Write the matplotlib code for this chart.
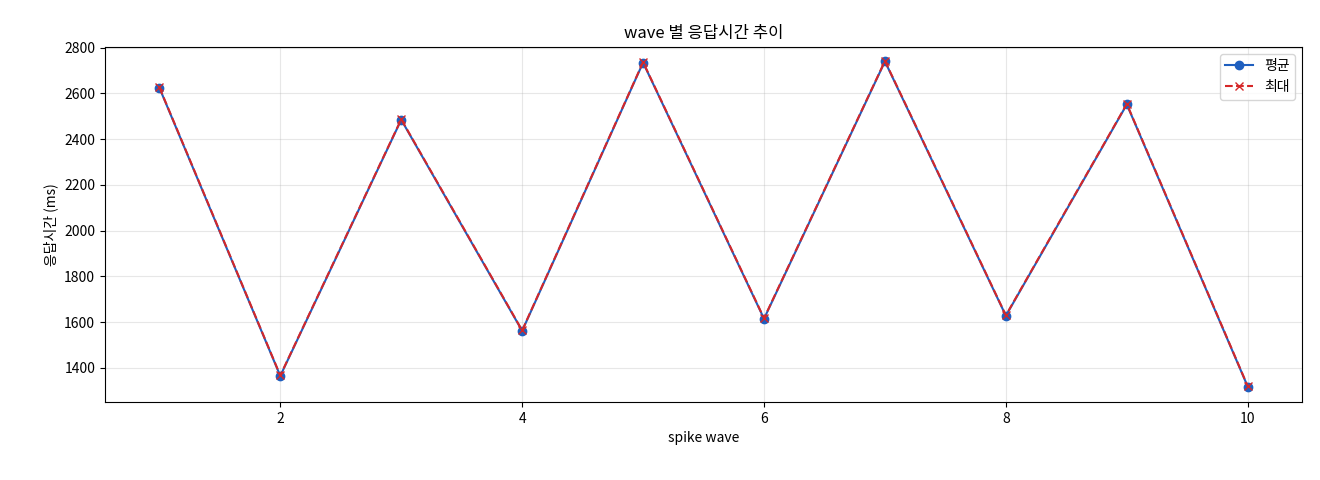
import matplotlib
matplotlib.use("Agg")
import matplotlib.pyplot as plt

plt.rcParams['font.family'] = ['Noto Sans CJK KR', 'DejaVu Sans']

waves = [1, 2, 3, 4, 5, 6, 7, 8, 9, 10]
avg_ms = [2625, 1365, 2485, 1562, 2735, 1615, 2740, 1628, 2552, 1318]
max_ms = [2627, 1367, 2487, 1564, 2737, 1617, 2742, 1630, 2554, 1320]

fig = plt.figure(figsize=(13.2, 4.8), dpi=100)
ax = fig.add_axes([0.0795, 0.1625, 0.907, 0.74])
ax.plot(waves, avg_ms, marker='o', color='#1f5fbf', label='평균', markersize=6)
ax.plot(waves, max_ms, marker='x', linestyle='--', color='#d62728', label='최대', markersize=6)
ax.set_title('wave 별 응답시간 추이', fontsize=12)
ax.set_xlabel('spike wave', fontsize=10)
ax.set_ylabel('응답시간 (ms)', fontsize=10)
ax.set_ylim(1251, 2804)
ax.grid(True, alpha=0.3)
ax.legend(loc='upper right')
fig.savefig('out.png', dpi=100)
